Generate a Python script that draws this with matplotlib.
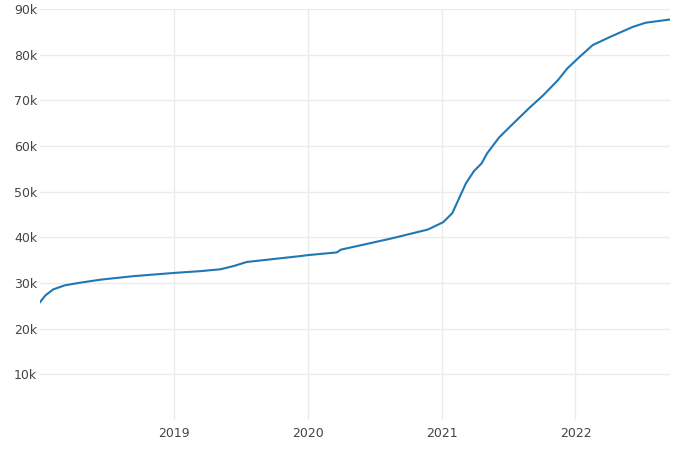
import matplotlib
matplotlib.use("Agg")
import matplotlib.pyplot as plt
import matplotlib.ticker as mticker
import pandas as pd

dates = ["2018-01-01", "2018-01-16", "2018-02-06", "2018-03-10", "2018-04-23",
         "2018-06-17", "2018-09-13", "2019-01-01", "2019-03-15", "2019-05-08",
         "2019-06-13", "2019-07-19", "2019-09-13", "2019-12-13", "2020-01-01",
         "2020-03-21", "2020-04-01", "2020-08-14", "2020-11-24", "2020-12-28",
         "2021-01-05", "2021-01-30", "2021-03-08", "2021-03-30", "2021-04-20",
         "2021-05-05", "2021-06-07", "2021-07-06", "2021-08-29", "2021-10-05",
         "2021-11-14", "2021-12-10", "2022-01-08", "2022-02-17", "2022-04-06",
         "2022-05-04", "2022-06-07", "2022-07-12", "2022-09-16"]
values = [25800, 27300, 28600, 29500, 30100,
          30750, 31500, 32200, 32600, 33000,
          33700, 34600, 35100, 35900, 36100,
          36700, 37300, 39700, 41700, 43000,
          43300, 45300, 51800, 54500, 56200,
          58400, 61900, 64200, 68400, 71100,
          74400, 77000, 79200, 82100, 83900,
          84900, 86100, 87000, 87700]
year_ticks = ["2019-01-01", "2020-01-01", "2021-01-01", "2022-01-01"]
year_labels = ["2019", "2020", "2021", "2022"]
y_ticks = [10000, 20000, 30000, 40000, 50000, 60000, 70000, 80000, 90000]

x = pd.to_datetime(dates)

fig = plt.figure(figsize=(7, 4.5), dpi=100)
ax = fig.add_axes([40/700, 30/450, 630/700, 411/450])
ax.plot(x, values, color="#1f77b4", linewidth=1.5, solid_joinstyle="round")

ax.set_xlim(pd.Timestamp("2018-01-01"), pd.Timestamp("2022-09-16"))
ax.set_ylim(0, 90000)

ax.set_xticks(pd.to_datetime(year_ticks))
ax.set_xticklabels(year_labels)
ax.set_yticks(y_ticks)
ax.yaxis.set_major_formatter(mticker.FuncFormatter(lambda v, p: f"{int(v/1000)}k"))

ax.grid(True, color="#ebebeb", linewidth=1)
ax.set_axisbelow(True)
for s in ax.spines.values():
    s.set_visible(False)
ax.tick_params(length=0, labelsize=9, colors="#444444", pad=2)
ax.tick_params(axis="x", pad=5)
for lbl in ax.get_xticklabels() + ax.get_yticklabels():
    lbl.set_fontfamily("DejaVu Sans")

fig.savefig("out.png", dpi=100)
